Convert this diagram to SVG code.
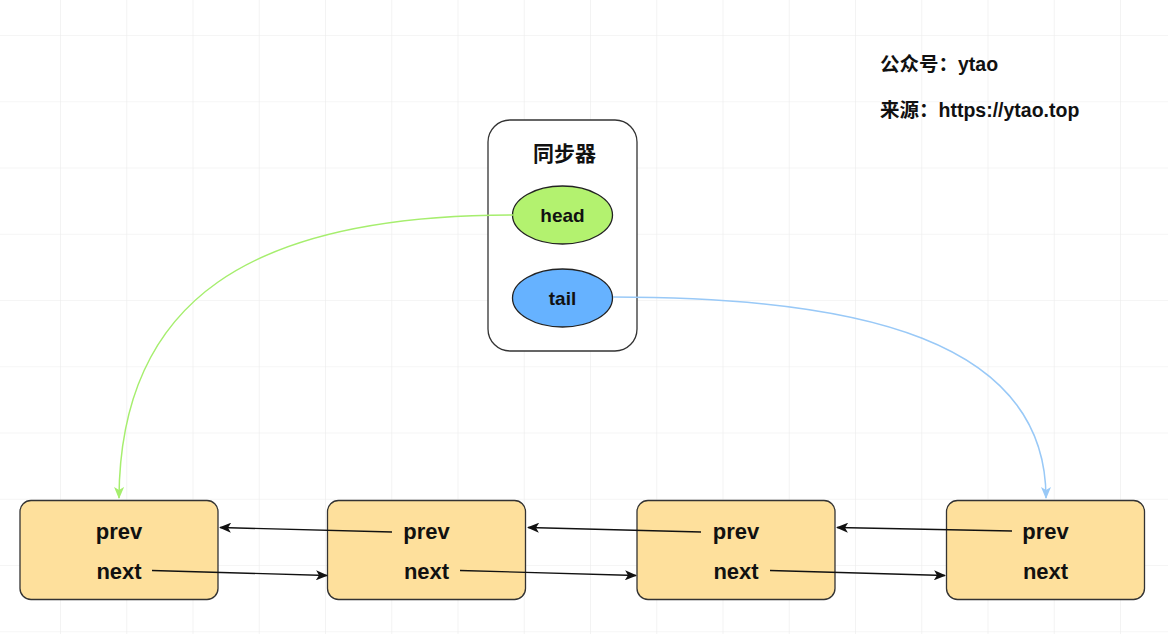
<svg xmlns="http://www.w3.org/2000/svg" width="1168" height="634" viewBox="0 0 1168 634">
<defs>
  <pattern id="grid" x="-5.25" y="-30.25" width="66.25" height="66.25" patternUnits="userSpaceOnUse">
    <path d="M66.25 0 V66.25 M0 66.25 H66.25" fill="none" stroke="#ebebeb" stroke-width="1.2"/>
  </pattern>
  <marker id="arrBlack" viewBox="0 0 12 10" refX="11" refY="5" markerWidth="12" markerHeight="10" markerUnits="userSpaceOnUse" orient="auto">
    <path d="M0 0 L12 5 L0 10 L3 5 Z" fill="#111"/>
  </marker>
  <marker id="arrGreen" viewBox="0 0 12 10" refX="11" refY="5" markerWidth="12" markerHeight="10" markerUnits="userSpaceOnUse" orient="auto">
    <path d="M0 0 L12 5 L0 10 L3 5 Z" fill="#a6ee6e"/>
  </marker>
  <marker id="arrBlue" viewBox="0 0 12 10" refX="11" refY="5" markerWidth="12" markerHeight="10" markerUnits="userSpaceOnUse" orient="auto">
    <path d="M0 0 L12 5 L0 10 L3 5 Z" fill="#99c9f7"/>
  </marker>
</defs>
<style>
  .node rect { fill: #fee09c; stroke: #333; stroke-width: 1.3; }
  .lbl { font-family: "Liberation Sans", "Noto Sans CJK SC", sans-serif; font-weight: bold; fill: #111; text-anchor: middle; }
  .big { font-size: 22px; }
  .ell { font-size: 19px; }
  .note { font-family: "Liberation Sans", "Noto Sans CJK SC", sans-serif; font-weight: bold; font-size: 19.5px; fill: #111; }
  .blk { fill: none; stroke: #111; stroke-width: 1.4; marker-end: url(#arrBlack); }
</style>
<rect width="1168" height="634" fill="#ffffff"/>
<rect width="1168" height="634" fill="url(#grid)"/>

<g id="note">
  <text class="note" x="880" y="71">公众号：ytao</text>
  <text class="note" x="880" y="117">来源：https://ytao.top</text>
</g>

<g id="sync">
  <rect x="488" y="120" width="149" height="231" rx="22" fill="#ffffff" stroke="#333" stroke-width="1.3"/>
  <text class="lbl" x="564.5" y="161" font-size="21">同步器</text>
</g>
<g id="head">
  <ellipse cx="562.5" cy="215" rx="50" ry="29" fill="#b3f26f" stroke="#222" stroke-width="1.3"/>
  <text class="lbl ell" x="562.5" y="222">head</text>
</g>
<g id="tail">
  <ellipse cx="562.5" cy="298" rx="50" ry="29" fill="#66b2ff" stroke="#222" stroke-width="1.3"/>
  <text class="lbl ell" x="562.5" y="305">tail</text>
</g>

<g id="node1" class="node">
  <rect x="20" y="500.5" width="198" height="99" rx="11"/>
  <text class="lbl big" x="119" y="539">prev</text>
  <text class="lbl big" x="119" y="579">next</text>
</g>
<g id="node2" class="node">
  <rect x="327.5" y="500.5" width="198" height="99" rx="11"/>
  <text class="lbl big" x="426.5" y="539">prev</text>
  <text class="lbl big" x="426.5" y="579">next</text>
</g>
<g id="node3" class="node">
  <rect x="637" y="500.5" width="198" height="99" rx="11"/>
  <text class="lbl big" x="736" y="539">prev</text>
  <text class="lbl big" x="736" y="579">next</text>
</g>
<g id="node4" class="node">
  <rect x="946.5" y="500.5" width="198" height="99" rx="11"/>
  <text class="lbl big" x="1045.5" y="539">prev</text>
  <text class="lbl big" x="1045.5" y="579">next</text>
</g>

<g id="connectors">
  <path d="M513 215 C 250 215, 120 300, 119 498" fill="none" stroke="#a6ee6e" stroke-width="1.5" marker-end="url(#arrGreen)"/>
  <path d="M613 297 C 860 297, 1046 340, 1046 498" fill="none" stroke="#99c9f7" stroke-width="1.5" marker-end="url(#arrBlue)"/>
  <path class="blk" d="M392 532 L220 527.5"/>
  <path class="blk" d="M701 532 L528 527.5"/>
  <path class="blk" d="M1012 531 L837 527.5"/>
  <path class="blk" d="M152 570.5 L327 575.5"/>
  <path class="blk" d="M460 570.5 L636 575.5"/>
  <path class="blk" d="M770 570.5 L945 575.5"/>
</g>
</svg>
